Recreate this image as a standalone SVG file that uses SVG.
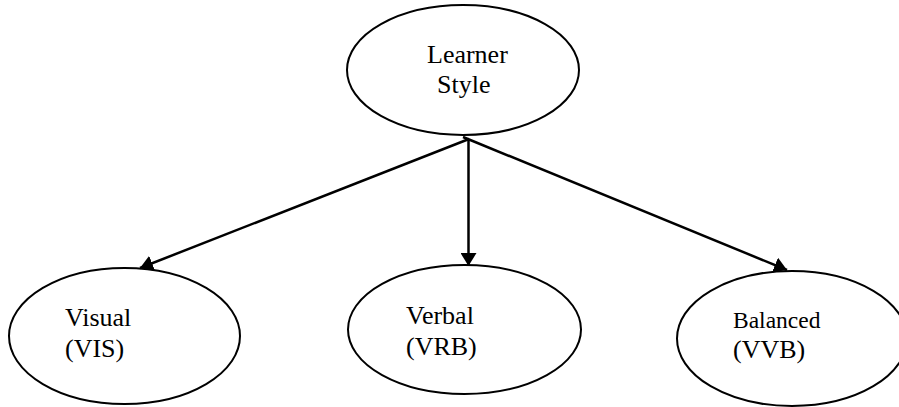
<svg xmlns="http://www.w3.org/2000/svg" width="899" height="407" viewBox="0 0 899 407">
  <style>
    .node ellipse { fill: #ffffff; stroke: #000000; stroke-width: 2; }
    .node text { font-family: "Liberation Serif", "Times New Roman", serif; font-size: 26px; fill: #000000; }
    .edges line { stroke: #000000; stroke-width: 2.5; }
  </style>
  <defs>
    <marker id="arrow" markerUnits="userSpaceOnUse" markerWidth="14" markerHeight="16" refX="13" refY="8" orient="auto">
      <path d="M0,0 L13,8 L0,16 z" fill="#000000"/>
    </marker>
  </defs>

  <rect width="899" height="407" fill="#ffffff"/>

  <g id="learner-style" class="node">
    <ellipse cx="463" cy="70" rx="116" ry="65"/>
    <text x="427" y="63">Learner</text>
    <text x="437" y="93">Style</text>
  </g>

  <g id="visual" class="node">
    <ellipse cx="124.5" cy="336" rx="115.5" ry="68"/>
    <text x="65" y="326">Visual</text>
    <text x="65" y="357">(VIS)</text>
  </g>

  <g id="verbal" class="node">
    <ellipse cx="464.5" cy="329.5" rx="116.5" ry="64.5"/>
    <text x="406" y="324">Verbal</text>
    <text x="406" y="355">(VRB)</text>
  </g>

  <g id="balanced" class="node">
    <ellipse cx="792" cy="338.5" rx="115" ry="67.5"/>
    <text x="733" y="328" style="font-size:23.5px">Balanced</text>
    <text x="733" y="358">(VVB)</text>
  </g>

  <g id="edges" class="edges">
    <line x1="469" y1="139" x2="140" y2="268" marker-end="url(#arrow)"/>
    <line x1="468.5" y1="139" x2="468.5" y2="266" marker-end="url(#arrow)"/>
    <line x1="463" y1="137" x2="787" y2="270" marker-end="url(#arrow)"/>
  </g>
</svg>
